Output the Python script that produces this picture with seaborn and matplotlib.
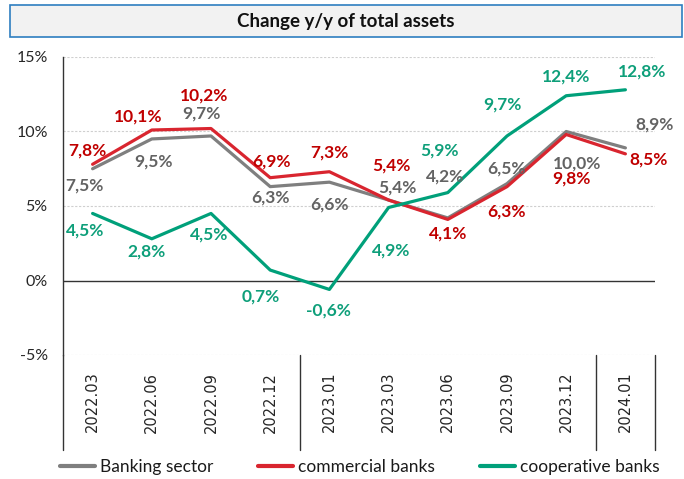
import seaborn as sns
import pandas as pd
import matplotlib.pyplot as plt
from matplotlib.patches import Rectangle

periods = ['2022.03', '2022.06', '2022.09', '2022.12', '2023.01',
           '2023.03', '2023.06', '2023.09', '2023.12', '2024.01']
banking = [7.5, 9.5, 9.7, 6.3, 6.6, 5.4, 4.2, 6.5, 10.0, 8.9]
commercial = [7.8, 10.1, 10.2, 6.9, 7.3, 5.4, 4.1, 6.3, 9.8, 8.5]
cooperative = [4.5, 2.8, 4.5, 0.7, -0.6, 4.9, 5.9, 9.7, 12.4, 12.8]
series_names = ['Banking sector', 'commercial banks', 'cooperative banks']
title = 'Change y/y of total assets'

# label offsets (points) for each series
off_bank = [(-6, -12), (1, -16), (-7, 16), (0, -8), (0, -16), (6, 9), (-2, 30), (0, 11), (8, -23), (21, 17)]
off_comm = [(-4, 10), (-10, 10), (-5, 24), (1, 12), (0, 14), (2, 25), (0, -10), (0, -18), (4, -32), (17, -4)]
off_coop = [(-5, -12), (-4, -9), (-1, -15), (-7, -19), (-1, -15), (2, -31), (-6, 30), (-3, 23), (0, 14), (12, 13)]

line_colors = ['#7F7F7F', '#D9252F', '#00A07A']
label_colors = ['#636363', '#C00000', '#0E9F7A']

df = pd.DataFrame({
    'period': periods * 3,
    'value': banking + commercial + cooperative,
    'series': [s for s in series_names for _ in periods],
})

sns.set_style('white')
plt.rcParams['font.family'] = ['Lato', 'DejaVu Sans']

fig = plt.figure(figsize=(6.84, 4.79), dpi=100)
ax = fig.add_axes([63 / 684, 1 - 355 / 479, (655 - 63) / 684, (355 - 57) / 479])

sns.lineplot(data=df, x='period', y='value', hue='series', palette=line_colors,
             linewidth=2.3, sort=False, ax=ax)

ax.set_xlim(-0.5, len(periods) - 0.5)
ax.set_ylim(-5, 15)
ax.set_yticks([-5, 0, 5, 10, 15])
ax.set_yticklabels(['-5%', '0%', '5%', '10%', '15%'], fontsize=11.5)
ax.set_xlabel('')
ax.set_ylabel('')
ax.tick_params(axis='y', length=0, pad=11)
ax.tick_params(axis='x', length=0, pad=12)
for lab in ax.get_xticklabels():
    lab.set_rotation(90)
    lab.set_family('DejaVu Sans')
    lab.set_fontsize(10.5)
    lab.set_va('top')

for y in [-5, 5, 10, 15]:
    ax.axhline(y, color='#CFCFCF', lw=0.8, ls=(0, (2, 1.5)), zorder=0)
ax.axhline(0, color='#333333', lw=1.0, zorder=1)

for s in ['top', 'right', 'bottom']:
    ax.spines[s].set_visible(False)
ax.spines['left'].set_color('#333333')
ax.spines['left'].set_linewidth(1.0)

# category separators below the plot
for xb in [-0.5, 3.5, 8.5, 9.5]:
    ax.axvline(xb, ymin=-0.32, ymax=0, color='#333333', lw=1.0, clip_on=False)

for vals, offs, col in zip([banking, commercial, cooperative],
                           [off_bank, off_comm, off_coop], label_colors):
    for i, (v, o) in enumerate(zip(vals, offs)):
        ax.annotate(f'{v:.1f}%'.replace('.', ','), (i, v), xytext=o,
                    textcoords='offset points', ha='center', va='center',
                    fontsize=12.5, fontweight='bold', color=col)

handles, labels = ax.get_legend_handles_labels()
ax.get_legend().remove()
leg = fig.legend(handles, labels, loc='center', bbox_to_anchor=(360 / 684, 1 - 467 / 479),
                 ncol=3, frameon=False, fontsize=12.5, handlelength=2.0,
                 columnspacing=2.6, handletextpad=0.3, borderaxespad=0)
for h in leg.get_lines():
    h.set_linewidth(3)
for t in leg.get_texts():
    t.set_color('#1A1A1A')

fig.patches.append(Rectangle((10 / 684, 1 - 37 / 479), 672 / 684, 32 / 479,
                             transform=fig.transFigure, facecolor='#F2F2F2',
                             edgecolor='#2E7EC0', lw=1.2))
fig.text(346 / 684, 1 - 21 / 479, title, ha='center', va='center',
         fontsize=13.5, fontweight='bold', color='#111111')

fig.savefig('out.png', dpi=100)
